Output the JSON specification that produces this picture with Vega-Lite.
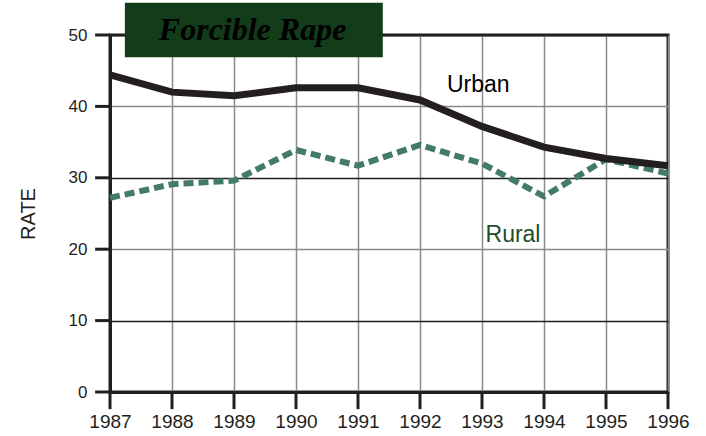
{
  "$schema": "https://vega.github.io/schema/vega-lite/v6.json",
  "autosize": "none",
  "width": 558,
  "height": 357,
  "padding": {"left": 110, "top": 35, "right": 38, "bottom": 44},
  "background": "white",
  "config": {
    "view": {"stroke": "#231f20", "strokeWidth": 3},
    "font": "Liberation Sans"
  },
  "datasets": {
    "series": [
      {"year": 1987, "rate": 44.4, "area": "Urban"},
      {"year": 1988, "rate": 42.0, "area": "Urban"},
      {"year": 1989, "rate": 41.5, "area": "Urban"},
      {"year": 1990, "rate": 42.6, "area": "Urban"},
      {"year": 1991, "rate": 42.6, "area": "Urban"},
      {"year": 1992, "rate": 40.9, "area": "Urban"},
      {"year": 1993, "rate": 37.2, "area": "Urban"},
      {"year": 1994, "rate": 34.3, "area": "Urban"},
      {"year": 1995, "rate": 32.7, "area": "Urban"},
      {"year": 1996, "rate": 31.7, "area": "Urban"},
      {"year": 1987, "rate": 27.2, "area": "Rural"},
      {"year": 1988, "rate": 29.1, "area": "Rural"},
      {"year": 1989, "rate": 29.6, "area": "Rural"},
      {"year": 1990, "rate": 33.9, "area": "Rural"},
      {"year": 1991, "rate": 31.7, "area": "Rural"},
      {"year": 1992, "rate": 34.6, "area": "Rural"},
      {"year": 1993, "rate": 32.0, "area": "Rural"},
      {"year": 1994, "rate": 27.4, "area": "Rural"},
      {"year": 1995, "rate": 32.6, "area": "Rural"},
      {"year": 1996, "rate": 30.6, "area": "Rural"}
    ],
    "xticks": [
      {"year": 1987}, {"year": 1988}, {"year": 1989}, {"year": 1990}, {"year": 1991},
      {"year": 1992}, {"year": 1993}, {"year": 1994}, {"year": 1995}, {"year": 1996}
    ],
    "yticks": [
      {"rate": 0}, {"rate": 10}, {"rate": 20}, {"rate": 30}, {"rate": 40}, {"rate": 50}
    ],
    "labels": [
      {"year": 1992.94, "rate": 43.0, "label": "Urban"},
      {"year": 1993.5, "rate": 22.0, "label": "Rural"}
    ],
    "titlebox": [
      {"x1": 1987.24, "x2": 1991.4, "y1": 54.5, "y2": 46.9, "mid": 1989.3, "ymid": 50.7, "label": "Forcible Rape"}
    ]
  },
  "layer": [
    {
      "data": {"name": "series"},
      "transform": [{"filter": "datum.area == 'Rural'"}],
      "mark": {"type": "line", "color": "#437a68", "strokeWidth": 6, "strokeDash": [10, 5], "clip": false},
      "encoding": {
        "x": {
          "field": "year", "type": "quantitative",
          "scale": {"domain": [1987, 1996], "nice": false, "zero": false},
          "axis": {
            "values": [1987, 1988, 1989, 1990, 1991, 1992, 1993, 1994, 1995, 1996],
            "format": "d", "title": null,
            "labelFont": "Liberation Sans", "labelFontSize": 19, "labelColor": "#231f20",
            "labelPadding": 20, "labelFlush": false,
            "ticks": false,
            "domainColor": "#231f20", "domainWidth": 3,
            "grid": true, "gridColor": "#8a8a8a", "gridWidth": 1.5
          }
        },
        "y": {
          "field": "rate", "type": "quantitative",
          "scale": {"domain": [0, 50], "nice": false},
          "axis": {
            "values": [0, 10, 20, 30, 40, 50],
            "title": "RATE", "titleFont": "Liberation Sans", "titleFontSize": 20, "titleFontWeight": "normal",
            "titleColor": "#231f20", "titlePadding": 30,
            "labelFont": "Liberation Sans", "labelFontSize": 17, "labelColor": "#231f20",
            "labelPadding": 23, "labelFlush": false,
            "ticks": false,
            "domainColor": "#231f20", "domainWidth": 3,
            "grid": true, "gridWidth": 1.3,
            "gridColor": {"condition": {"test": "datum.value % 20 == 10", "value": "#231f20"}, "value": "#8a8a8a"}
          }
        }
      }
    },
    {
      "data": {"name": "xticks"},
      "mark": {"type": "rule", "color": "#231f20", "strokeWidth": 3, "clip": false},
      "encoding": {
        "x": {"field": "year", "type": "quantitative"},
        "y": {"datum": 0, "type": "quantitative"},
        "y2": {"datum": -2.4}
      }
    },
    {
      "data": {"name": "yticks"},
      "mark": {"type": "rule", "color": "#231f20", "strokeWidth": 3, "clip": false},
      "encoding": {
        "y": {"field": "rate", "type": "quantitative"},
        "x": {"datum": 1986.76, "type": "quantitative"},
        "x2": {"datum": 1987}
      }
    },
    {
      "data": {"name": "series"},
      "transform": [{"filter": "datum.area == 'Urban'"}],
      "mark": {"type": "line", "color": "#231f20", "strokeWidth": 7, "clip": false},
      "encoding": {
        "x": {"field": "year", "type": "quantitative"},
        "y": {"field": "rate", "type": "quantitative"}
      }
    },
    {
      "data": {"name": "labels"},
      "mark": {"type": "text", "fontSize": 23, "font": "Liberation Sans", "align": "center", "baseline": "middle"},
      "encoding": {
        "x": {"field": "year", "type": "quantitative"},
        "y": {"field": "rate", "type": "quantitative"},
        "text": {"field": "label"},
        "color": {"field": "label", "type": "nominal", "scale": {"domain": ["Urban", "Rural"], "range": ["#000000", "#1f4d2c"]}, "legend": null}
      }
    },
    {
      "data": {"name": "titlebox"},
      "mark": {"type": "rect", "color": "#133d1a", "clip": false},
      "encoding": {
        "x": {"field": "x1", "type": "quantitative"},
        "x2": {"field": "x2"},
        "y": {"field": "y1", "type": "quantitative"},
        "y2": {"field": "y2"}
      }
    },
    {
      "data": {"name": "titlebox"},
      "mark": {"type": "text", "font": "Liberation Serif", "fontSize": 32, "fontStyle": "italic", "fontWeight": "bold", "color": "#000000", "align": "center", "baseline": "middle", "clip": false},
      "encoding": {
        "x": {"field": "mid", "type": "quantitative"},
        "y": {"field": "ymid", "type": "quantitative"},
        "text": {"field": "label"}
      }
    }
  ]
}
